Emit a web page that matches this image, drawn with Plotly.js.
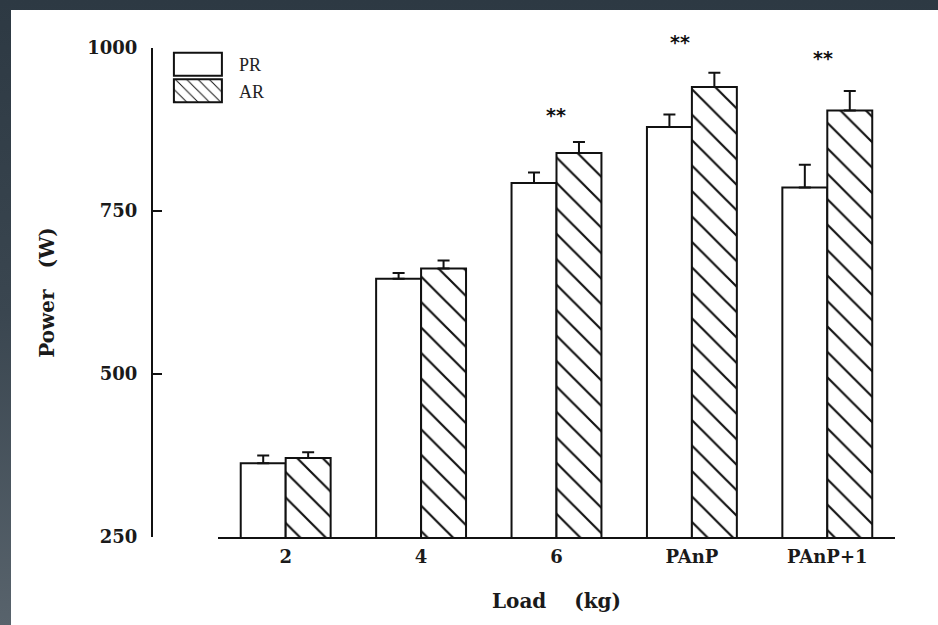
<!DOCTYPE html>
<html>
<head>
<meta charset="utf-8">
<script src="https://cdn.plot.ly/plotly-3.0.1.min.js"></script>
<style>
  html, body { margin: 0; padding: 0; width: 938px; height: 625px; overflow: hidden;
    background: linear-gradient(to bottom, #2d3943 0%, #3a4650 50%, #58636c 100%); }
  #chart { position: absolute; left: 11px; top: 10px; width: 927px; height: 615px; background: #fff; }
</style>
</head>
<body>
<div id="chart"></div>
<script>
// ---- data ----
var categories = ['2', '4', '6', 'PAnP', 'PAnP+1'];
var prValues = [363, 646, 793, 879, 786];
var prErrors = [12, 9, 16, 19, 35];
var arValues = [371, 662, 839, 940, 904];
var arErrors = [9, 12, 17, 22, 30];
var starCategories = ['6', 'PAnP', 'PAnP+1'];
var starY = [897, 1009, 985];
var starLabels = ['**', '**', '**'];
var yTicks = [250, 500, 750, 1000];
var yRange = [250, 1000];

var zeros = prValues.map(function () { return 0; });
var tickFont = { family: 'DejaVu Serif', size: 18, color: '#1a1a1a', weight: 'bold' };
var titleFont = { family: 'DejaVu Serif', size: 20, color: '#1a1a1a', weight: 'bold' };

var prTrace = {
  type: 'bar', name: 'PR', x: categories, y: prValues,
  marker: { color: '#ffffff', line: { color: '#111', width: 2 } },
  error_y: { type: 'data', symmetric: false, array: prErrors, arrayminus: zeros,
             color: '#111', thickness: 2, width: 6 }
};
var arTrace = {
  type: 'bar', name: 'AR', x: categories, y: arValues,
  marker: { color: '#ffffff', line: { color: '#111', width: 2 },
            pattern: { shape: '\\', fgcolor: '#111', bgcolor: '#ffffff', size: 18, solidity: 0.12 } },
  error_y: { type: 'data', symmetric: false, array: arErrors, arrayminus: zeros,
             color: '#111', thickness: 2, width: 6 }
};

// significance marks: x is the category index on the category axis; y is given in data
// units, expressed as a fraction of the y axis so marks just above its top are still drawn
var annotations = starCategories.map(function (c, i) {
  return { x: categories.indexOf(c), xref: 'x', xshift: [0, -12, -4][i],
           y: (starY[i] - yRange[0]) / (yRange[1] - yRange[0]), yref: 'paper',
           text: starLabels[i], showarrow: false, xanchor: 'center', yanchor: 'middle',
           font: { family: 'DejaVu Sans', size: 19, color: '#111', weight: 'bold' } };
});

var layout = {
  width: 927, height: 615,
  margin: { l: 141, r: 43, t: 38, b: 88, pad: 0 },
  paper_bgcolor: '#ffffff', plot_bgcolor: '#ffffff',
  barmode: 'group', bargap: 0.336, bargroupgap: 0,
  showlegend: true,
  legend: { x: 0.0066, y: 1.004, xanchor: 'left', yanchor: 'top', bgcolor: 'rgba(0,0,0,0)',
            itemwidth: 72, traceorder: 'normal',
            font: { family: 'Liberation Serif', size: 18, color: '#222' } },
  xaxis: {
    domain: [0.0888, 1], type: 'category', range: [-0.5, 4.5],
    showline: true, linecolor: '#111', linewidth: 2, showgrid: false, zeroline: false,
    ticks: '', ticklabelstandoff: 2,
    tickfont: tickFont,
    title: { text: 'Load\u00a0\u00a0\u00a0\u00a0(kg)', standoff: 28, font: titleFont }
  },
  yaxis: {
    anchor: 'free', position: 0, range: yRange,
    showline: true, linecolor: '#111', linewidth: 2, showgrid: false, zeroline: false,
    tickmode: 'array', tickvals: yTicks, ticktext: yTicks.map(String),
    ticks: 'inside', ticklen: 9, tickwidth: 1.5, tickcolor: '#111',
    ticklabelstandoff: 10,
    tickfont: tickFont,
    title: { text: 'Power\u00a0\u00a0\u00a0(W)', standoff: 26, font: titleFont }
  },
  annotations: annotations
};

Plotly.newPlot('chart', [prTrace, arTrace], layout, { staticPlot: true }).then(function (gd) {
  // enlarge legend swatches to the wide rectangles of the original figure
  var paths = gd.querySelectorAll('.legend path.legendbar, .legend .legendpoints path');
  paths.forEach(function (p) { p.setAttribute('d', 'M24,11.5H-24V-11.5H24Z'); });
});
</script>
</body>
</html>
